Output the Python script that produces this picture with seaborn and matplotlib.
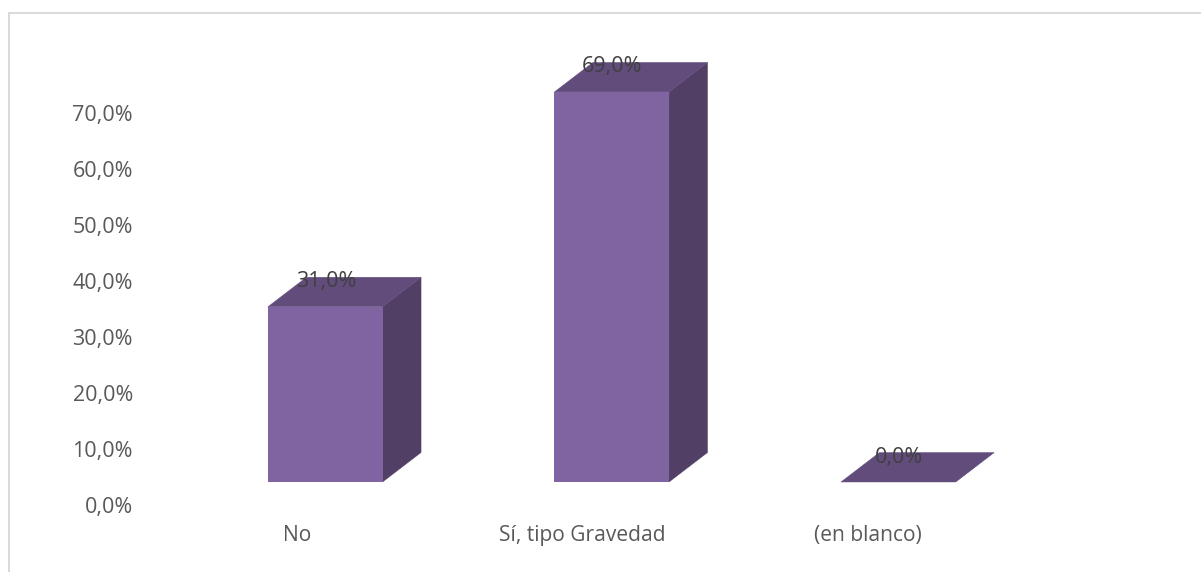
import matplotlib
matplotlib.use("Agg")
import matplotlib.pyplot as plt
from matplotlib.lines import Line2D
from matplotlib.patches import Polygon
from matplotlib.transforms import ScaledTranslation, IdentityTransform
import numpy as np
import pandas as pd
import seaborn as sns

categories = ["No", "Sí, tipo Gravedad", "(en blanco)"]
values = [31.0, 69.0, 0.0]
value_labels = ["31,0%", "69,0%", "0,0%"]
axis_ticks = [0, 10, 20, 30, 40, 50, 60, 70]
axis_tick_labels = ["0,0%", "10,0%", "20,0%", "30,0%", "40,0%", "50,0%", "60,0%", "70,0%"]

W, H = 1201, 572
DPI = 100
FRONT, TOP, SIDE = "#8063A1", "#614C7C", "#523F66"
DEPTH = (38.5, 29.5)
FS = 15.5

sns.set_theme(style="white")
plt.rcParams["font.family"] = ["Open Sans", "DejaVu Sans"]

fig = plt.figure(figsize=(W / DPI, H / DPI), dpi=DPI, facecolor="white")


def px_axes(left, right, top, bottom):
    return fig.add_axes([left / W, 1 - bottom / H, (right - left) / W, (bottom - top) / H])


# Front plane of the bars
ax = px_axes(182, 1041.5, 58, 482)
df = pd.DataFrame({"cat": categories, "val": values})
sns.barplot(data=df, x="cat", y="val", color=FRONT, saturation=1, width=0.4, ax=ax, zorder=3,
            linewidth=0, edgecolor="none")
ax.set_ylim(0, 75)
ax.set_xlim(-0.5, 2.5)
ax.patch.set_visible(False)
for s in ax.spines.values():
    s.set_visible(False)
ax.set_xlabel("")
ax.set_ylabel("")
ax.set_yticks([])
ax.tick_params(axis="x", length=0, pad=31, labelsize=15.1, labelcolor="#595959")

xlabel_shift_px = [-28.5, -29.5, -30]
for lab, dx in zip(ax.get_xticklabels(), xlabel_shift_px):
    lab.set_transform(lab.get_transform() + ScaledTranslation(dx / DPI, 0, fig.dpi_scale_trans))

# Oblique depth faces, derived from the bars' own display positions
fig.canvas.draw()
for patch, txt in zip(ax.patches, value_labels):
    b = patch.get_window_extent()
    x0, x1, y0, y1 = b.x0, b.x1, b.y0, b.y1
    dx, dy = DEPTH
    top = [(x0, y1), (x1, y1), (x1 + dx, y1 + dy), (x0 + dx, y1 + dy)]
    side = [(x1, y0), (x1, y1), (x1 + dx, y1 + dy), (x1 + dx, y0 + dy)]
    for pts, col in ((side, SIDE), (top, TOP)):
        ax.add_patch(Polygon(pts, closed=True, transform=IdentityTransform(), facecolor=col,
                             edgecolor=col, linewidth=0.3, clip_on=False, zorder=2))
    ax.annotate(txt, xy=((x0 + x1) / 2, y1), xycoords=IdentityTransform(), xytext=(0.5, 25 * 72 / DPI),
                textcoords="offset points", ha="center", va="center", fontsize=FS,
                color="#404040", zorder=5, annotation_clip=False)

# Value axis sits on the back wall: its own scale, drawn only as labels
ay = px_axes(182, 1041.5, 113, 505)
ay.patch.set_visible(False)
ay.set_ylim(0, 70)
ay.set_xticks([])
ay.set_yticks(axis_ticks)
ay.set_yticklabels(axis_tick_labels)
ay.tick_params(axis="y", length=0, pad=35.3, labelsize=FS, labelcolor="#595959")
for s in ay.spines.values():
    s.set_visible(False)

# Chart-area frame, running off the image at the right and bottom
fig.add_artist(Line2D([9.2 / W, 9.2 / W], [0, 1 - 12.5 / H], color="#D9D9D9", lw=1.4, transform=fig.transFigure))
fig.add_artist(Line2D([8.5 / W, 1], [1 - 13.3 / H, 1 - 13.3 / H], color="#D9D9D9", lw=1.4, transform=fig.transFigure))

fig.savefig("out.png", dpi=DPI, facecolor="white")
